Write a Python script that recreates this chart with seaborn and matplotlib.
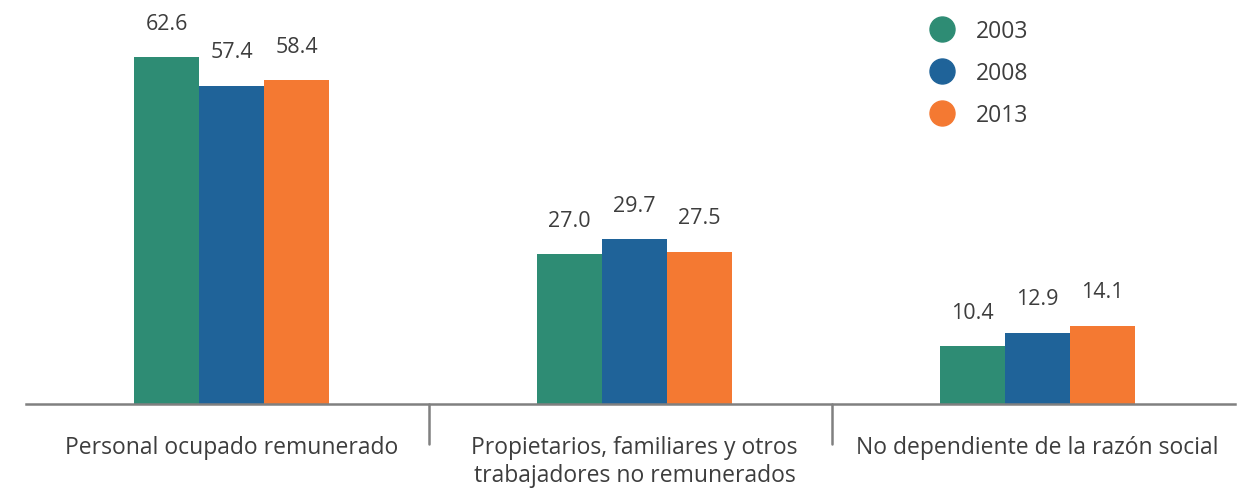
import matplotlib
matplotlib.use("Agg")
import matplotlib.pyplot as plt
import matplotlib.transforms as mtransforms
from matplotlib.lines import Line2D
import seaborn as sns
import pandas as pd

categories = ["Personal ocupado remunerado",
              "Propietarios, familiares y otros\ntrabajadores no remunerados",
              "No dependiente de la razón social"]
years = ["2003", "2008", "2013"]
v2003 = [62.6, 27.0, 10.4]
v2008 = [57.4, 29.7, 12.9]
v2013 = [58.4, 27.5, 14.1]
colors = ["#2E8C74", "#1F6399", "#F47932"]

rows = []
for yr, vals in zip(years, [v2003, v2008, v2013]):
    for c, v in zip(categories, vals):
        rows.append({"cat": c, "year": yr, "val": v})
df = pd.DataFrame(rows)

sns.set_theme(style="white")
plt.rcParams['font.family'] = ['Open Sans', 'DejaVu Sans']
text_color = "#3d3d3d"

fig = plt.figure(figsize=(12.52, 4.89), dpi=100)
ax = fig.add_axes([26/1252, 84/489, 1209/1252, 405/489])

sns.barplot(data=df, x="cat", y="val", hue="year", palette=colors,
            width=0.484, saturation=1, ax=ax, legend=False, linewidth=0)

for cont in ax.containers:
    ax.bar_label(cont, fmt="%.1f", padding=17, fontsize=15.5, color=text_color)

ax.set_xlim(-0.51, 2.49)
ax.set_ylim(0, 73.1)
ax.set_xlabel("")
ax.set_ylabel("")
ax.set_yticks([])
for s in ["top", "right", "left"]:
    ax.spines[s].set_visible(False)
ax.spines["bottom"].set_color("#808080")
ax.spines["bottom"].set_linewidth(1.8)
ax.tick_params(axis="x", length=0, pad=22, labelsize=16.5, labelcolor=text_color)
for lab in ax.get_xticklabels():
    lab.set_linespacing(1.25)

trans = mtransforms.blended_transform_factory(ax.transData, ax.transAxes)
for xsep in [0.49, 1.49]:
    ax.plot([xsep, xsep], [0, -40/405], transform=trans, color="#808080",
            lw=1.8, clip_on=False)

handles = [Line2D([0], [0], marker="o", linestyle="", markersize=18,
                  markerfacecolor=c, markeredgecolor=c) for c in colors]
leg = fig.legend(handles, years, loc="upper left",
                 bbox_to_anchor=(898/1252, 1 + 1/489), frameon=False,
                 fontsize=16.5, labelspacing=0.8, handletextpad=0.5,
                 labelcolor=text_color)

fig.savefig("out.png", dpi=100)
